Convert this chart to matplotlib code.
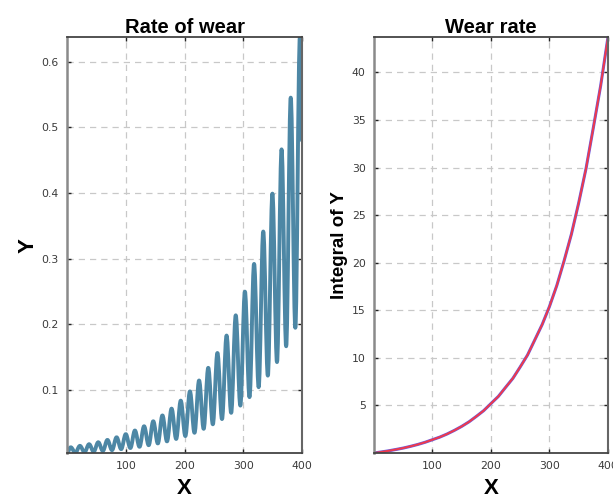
import matplotlib
matplotlib.use("Agg")
import matplotlib.pyplot as plt
from matplotlib.path import Path
from matplotlib.patches import PathPatch

# ---- data ----
# Left panel: oscillating rate of wear, listed as its turning points
wear_x = [0.0, 6.4, 14.2, 22.0, 29.8, 37.6, 45.4, 53.2, 61.0, 68.8, 76.6, 84.4, 92.2,
          100.0, 107.8, 115.6, 123.4, 131.2, 139.0, 146.8, 154.6, 162.4, 170.2, 178.0,
          185.8, 193.6, 201.4, 209.2, 217.0, 224.8, 232.6, 240.4, 248.2, 256.0, 263.8,
          271.6, 279.4, 287.2, 295.0, 302.8, 310.6, 318.4, 326.2, 334.0, 341.8, 349.6,
          357.4, 365.2, 373.0, 380.8, 388.6, 396.4, 400.0]
wear_y = [0.0042, 0.0129, 0.0046, 0.0151, 0.0054, 0.0176, 0.0063, 0.0206, 0.0074, 0.0241,
          0.0086, 0.0281, 0.0101, 0.0329, 0.0118, 0.0384, 0.0137, 0.0449, 0.0161, 0.0525,
          0.0188, 0.0614, 0.0219, 0.0718, 0.0256, 0.0839, 0.0300, 0.0980, 0.0350, 0.1146,
          0.0410, 0.1339, 0.0479, 0.1565, 0.0559, 0.1830, 0.0654, 0.2138, 0.0764, 0.2499,
          0.0893, 0.2921, 0.1044, 0.3414, 0.1220, 0.3991, 0.1426, 0.4665, 0.1667, 0.5452,
          0.1949, 0.6373, 0.4800]

# Right panel: integral of Y
int_x = [0, 12.5, 25, 37.5, 50, 62.5, 75, 87.5, 100, 112.5, 125, 137.5, 150, 162.5, 175,
         187.5, 200, 212.5, 225, 237.5, 250, 262.5, 275, 287.5, 300, 312.5, 325, 337.5,
         350, 362.5, 375, 387.5, 400]
int_y = [0, 0.11, 0.23, 0.37, 0.52, 0.70, 0.90, 1.13, 1.40, 1.67, 2.00, 2.38, 2.80, 3.28,
         3.85, 4.45, 5.20, 5.94, 6.90, 7.85, 9.05, 10.3, 11.9, 13.5, 15.4, 17.6, 20.2,
         23.0, 26.3, 29.9, 34.2, 38.6, 43.7]

left_title = "Rate of wear"
right_title = "Wear rate"
x_ticks = [100, 200, 300, 400]
left_yticks = [0.1, 0.2, 0.3, 0.4, 0.5, 0.6]
right_yticks = [5, 10, 15, 20, 25, 30, 35, 40]

title_font = ["Liberation Sans", "DejaVu Sans"]
label_font = ["Liberation Sans", "DejaVu Sans"]

fig = plt.figure(figsize=(6.13, 5.01), dpi=100)
axL = fig.add_axes([0.1093, 0.0958, 0.3834, 0.830])
axR = fig.add_axes([0.6101, 0.0958, 0.3817, 0.830])


def style(ax):
    ax.grid(True, color="#c8c8c8", linestyle=(0, (5, 4)), linewidth=0.9)
    ax.set_axisbelow(True)
    ax.tick_params(direction="in", top=True, right=True, length=3, width=1,
                   labelsize=7.8, labelcolor="#3a3a3a", color="#222222", pad=6)
    for s in ax.spines.values():
        s.set_color("#444444")
        s.set_linewidth(1.3)
    ax.spines["left"].set_color("#8a8a8a")
    ax.spines["left"].set_linewidth(1.8)
    ax.spines["right"].set_color("#666666")
    ax.spines["right"].set_linewidth(1.5)


# Left: smooth curve through turning points (horizontal tangents)
verts = [(wear_x[0], wear_y[0])]
codes = [Path.MOVETO]
for i in range(1, len(wear_x)):
    x0, y0 = wear_x[i - 1], wear_y[i - 1]
    x1, y1 = wear_x[i], wear_y[i]
    dx = x1 - x0
    verts += [(x0 + 0.364 * dx, y0), (x1 - 0.364 * dx, y1), (x1, y1)]
    codes += [Path.CURVE4] * 3
axL.add_patch(PathPatch(Path(verts, codes), fill=False, edgecolor="#4d87a5",
                        linewidth=2.8, capstyle="round", joinstyle="round"))
axL.set_xlim(0, 400)
axL.set_ylim(min(wear_y), max(wear_y))
axL.set_xticks(x_ticks)
axL.set_yticks(left_yticks)
axL.set_yticklabels([f"{v:g}" for v in left_yticks])
style(axL)
axL.set_title(left_title, fontsize=14.5, fontweight="bold", family=title_font, pad=3)
axL.set_xlabel("X", fontsize=16, fontweight="bold", family=label_font, labelpad=5)
axL.set_ylabel("Y", fontsize=16, fontweight="bold", family=label_font, labelpad=2)

# Right
axR.plot(int_x, int_y, color="#6a5de0", linewidth=2.2, solid_capstyle="round")
axR.plot(int_x, int_y, color="#f0394a", linewidth=1.4, solid_capstyle="round")
axR.set_xlim(0, 400)
axR.set_ylim(0, max(int_y))
axR.set_xticks(x_ticks)
axR.set_yticks(right_yticks)
style(axR)
axR.set_title(right_title, fontsize=14.5, fontweight="bold", family=title_font, pad=3)
axR.set_xlabel("X", fontsize=16, fontweight="bold", family=label_font, labelpad=5)
axR.set_ylabel("Integral of Y", fontsize=13.5, fontweight="bold", family=title_font, labelpad=3)

fig.savefig("out.png", dpi=100)
